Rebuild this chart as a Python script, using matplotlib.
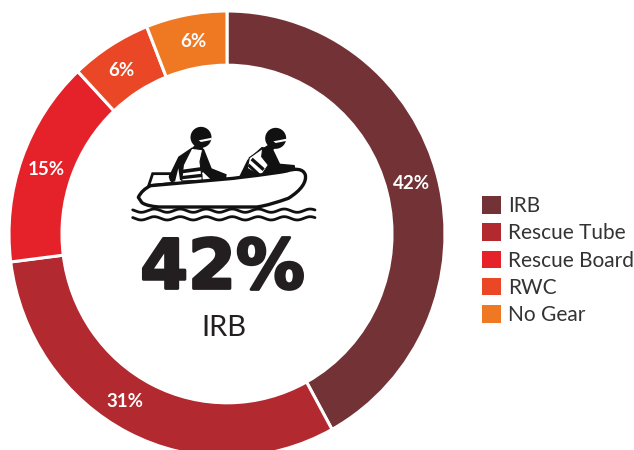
import numpy as np
import matplotlib
matplotlib.use("Agg")
import matplotlib.pyplot as plt
import matplotlib.patheffects as pe
from matplotlib.patches import PathPatch, Patch, Circle, Polygon
from matplotlib.path import Path

plt.rcParams["font.family"] = ["Lato", "DejaVu Sans"]

# data
categories = ["IRB", "Rescue Tube", "Rescue Board", "RWC", "No Gear"]
shares = [42, 31, 15, 6, 6]
colors = ["#723236", "#B2292F", "#E52129", "#EA4726", "#EF7822"]
center_value = "42%"
center_name = "IRB"

W, H = 634, 450
fig = plt.figure(figsize=(W / 100, H / 100), dpi=100)

# ring, slightly taller than wide and cut off by the bottom edge
ax = fig.add_axes([9 / W, 1 - 457 / H, 436 / W, 446 / H])
wedges, _, pcts = ax.pie(
    shares, colors=colors, startangle=90, counterclock=False, radius=1,
    autopct="%d%%", pctdistance=0.875,
    wedgeprops=dict(width=0.243, edgecolor="white", linewidth=2.2),
    textprops=dict(color="white", fontsize=13.5, fontweight="bold"),
)
ax.set_aspect("auto")
ax.set_xlim(-1, 1)
ax.set_ylim(-1, 1)

# nudge labels (pixels, x right / y down), the original sets them by hand
nudges = [(0, -2), (-15, -6), (-1, 2), (-3, 1), (2, -1)]
for t, (dx, dy) in zip(pcts, nudges):
    x, y = t.get_position()
    t.set_position((x + dx / 218, y - dy / 223))

# overlay in pixel coords
ov = fig.add_axes([0, 0, 1, 1])
ov.set_xlim(0, W)
ov.set_ylim(H, 0)
ov.axis("off")

ov.text(222.5, 269, center_value, ha="center", va="center", fontsize=49.5,
        family="DejaVu Sans", fontweight="bold", color="#231F20",
        path_effects=[pe.withStroke(linewidth=2, foreground="#231F20")])
ov.text(224, 328, center_name, ha="center", va="center", fontsize=21, color="#231F20")

leg = fig.legend(
    handles=[Patch(facecolor=c, label=n) for c, n in zip(colors, categories)],
    loc="upper left", bbox_to_anchor=(482 / W, 1 - 196 / H), frameon=False,
    fontsize=15, handlelength=0.92, handleheight=0.92, handletextpad=0.33,
    labelspacing=0.35, borderpad=0, borderaxespad=0, labelcolor="#333333",
)


def z(pts):
    return [(120 + x / 3, 115 + y / 3) for x, y in pts]


def curve(verts, codes, **kw):
    ov.add_patch(PathPatch(Path(z(verts), codes), **kw))


M, L, C, Z = Path.MOVETO, Path.LINETO, Path.CURVE4, Path.CLOSEPOLY
ink = "#111111"


def poly(pts, fc=ink, ec="none", lw=0):
    ov.add_patch(Polygon(z(pts), closed=True, facecolor=fc, edgecolor=ec, linewidth=lw))


# motor box
poly([(86, 212), (98, 176), (150, 176), (158, 205)], fc="white", ec=ink, lw=2.0)

# person 1
poly([(146, 185), (175, 125), (215, 98), (252, 102), (275, 160), (295, 168),
      (320, 178), (318, 194), (275, 196), (250, 172), (180, 196), (175, 160),
      (165, 200), (150, 198)])
poly([(215, 100), (248, 104), (240, 140), (247, 196), (185, 198), (190, 150)],
     fc="white", ec=ink, lw=0.8)
poly([(187, 164), (245, 156), (245, 167), (187, 175)])
poly([(185, 183), (247, 176), (247, 186), (185, 193)])
ov.add_patch(Circle(z([(243, 67)])[0], 10.5, fc=ink, ec="none"))
poly([(236, 76), (276, 68), (274, 75), (243, 81)], fc="white")
poly([(230, 85), (248, 92), (250, 104), (215, 100)])

# person 2
poly([(356, 188), (382, 135), (425, 96), (458, 100), (480, 146), (524, 150),
      (528, 170), (470, 174), (440, 182), (400, 192)])
poly([(428, 100), (388, 128), (382, 160), (422, 184), (445, 150), (425, 125)],
     fc="white", ec=ink, lw=0.8)
poly([(398, 128), (434, 160), (428, 168), (392, 136)])
poly([(388, 146), (420, 176), (414, 183), (383, 154)])
ov.add_patch(Circle(z([(467, 70)])[0], 10.5, fc=ink, ec="none"))
poly([(460, 79), (500, 71), (498, 78), (467, 84)], fc="white")
poly([(450, 86), (470, 95), (458, 106), (428, 100)])

# hull
curve(
    [(55, 247), (62, 232), (75, 220), (92, 212), (340, 190), (355, 188), (440, 178),
     (480, 172), (500, 168), (525, 160), (550, 160), (556, 180), (560, 200), (545, 225),
     (505, 250), (470, 262), (440, 272), (410, 276), (120, 276), (110, 276), (75, 272),
     (65, 262), (55, 247), (55, 247)],
    [M, C, C, C, L, L, C, C, C, C, C, C, C, C, C, C, C, C, L, C, C, C, L, Z],
    facecolor="white", edgecolor=ink, linewidth=2.4, joinstyle="round",
)

# waves
for y0 in (287, 310):
    xs = np.linspace(38, 585, 200)
    ys = y0 + 5 * np.sin((xs - 38) / 78 * 2 * np.pi - 0.5)
    pts = z(list(zip(xs, ys)))
    ov.plot([p[0] for p in pts], [p[1] for p in pts], color=ink, lw=2.0, solid_capstyle="round")

fig.savefig("out.png", dpi=100)
